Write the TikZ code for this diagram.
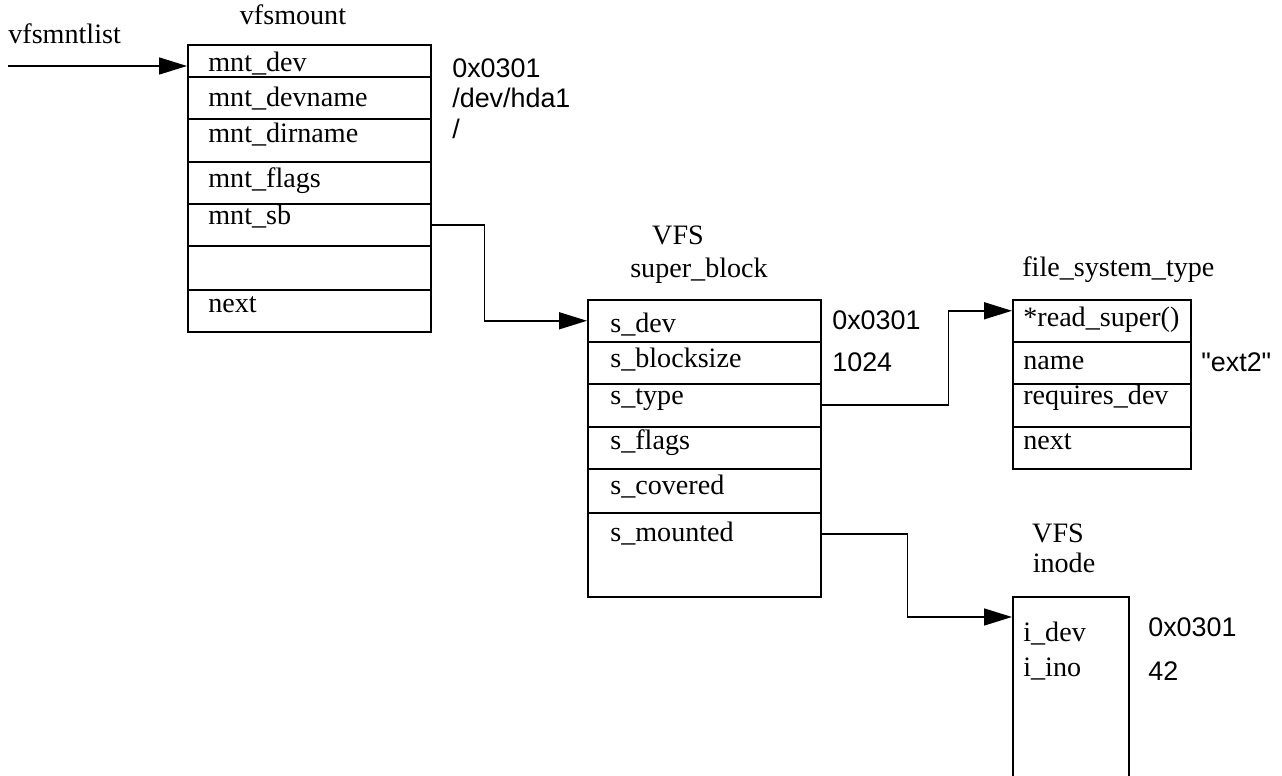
\documentclass[tikz,border=0pt]{standalone}
\usepackage{fontspec}
\setmainfont{Liberation Serif}
\newfontfamily\valfont{Liberation Sans}
\usetikzlibrary{arrows.meta}

\tikzset{
  field/.style={draw, line width=0.9pt, anchor=north west, inner sep=0pt},
  lbl/.style={anchor=base west, inner sep=0pt, font=\fontsize{16}{19}\selectfont},
  ttl/.style={anchor=base, inner sep=0pt, font=\fontsize{16}{19}\selectfont},
  val/.style={anchor=base west, inner sep=0pt, font=\valfont\fontsize{15.3}{18}\selectfont},
  link/.style={line width=0.9pt, -{Triangle[length=0.56cm,width=0.34cm]}}
}

\begin{document}
\begin{tikzpicture}[x=0.02cm, y=-0.02cm]

    % 枠
    \useasboundingbox (0,0) rectangle (1282,776);

    % vfsmount の欄
    \foreach \n/\t/\b in {mntdev/44/76, mntdevname/76/118, mntdirname/118/161,
        mntflags/161/203, mntsb/203/245, mntempty/245/289, mntnext/289/331}
        \node[field, minimum width=243*0.02cm, minimum height={(\b-\t)*0.02cm}] (\n) at (187,\t) {};

    \node[ttl] (vfsmount) at (293,25) {vfsmount};
    \node[lbl] (vfsmntlist) at (8,44) {vfsmntlist};
    \node[lbl] (tmntdev) at (208,72) {mnt\_dev};
    \node[lbl] (tmntdevname) at (208,107) {mnt\_devname};
    \node[lbl] (tmntdirname) at (208,143) {mnt\_dirname};
    \node[lbl] (tmntflags) at (208,188) {mnt\_flags};
    \node[lbl] (tmntsb) at (208,225) {mnt\_sb};
    \node[lbl] (tmntnext) at (208,313) {next};
    \node[val] (vdev) at (452,78) {0x0301};
    \node[val] (vdevname) at (452,108) {/dev/hda1};
    \node[val] (vdirname) at (452,139) {/};

    % super_block の欄
    \foreach \n/\t/\b in {sdev/299/341, sblocksize/341/383, stype/383/426,
        sflags/426/468, scovered/468/512, smounted/512/596}
        \node[field, minimum width=233*0.02cm, minimum height={(\b-\t)*0.02cm}] (\n) at (587,\t) {};

    \node[ttl] (sbvfs) at (678,245) {VFS};
    \node[ttl] (superblock) at (699,278) {super\_block};
    \node[lbl] (tsdev) at (610,333) {s\_dev};
    \node[lbl] (tsblocksize) at (610,368) {s\_blocksize};
    \node[lbl] (tstype) at (610,405) {s\_type};
    \node[lbl] (tsflags) at (610,450) {s\_flags};
    \node[lbl] (tscovered) at (610,495) {s\_covered};
    \node[lbl] (tsmounted) at (610,542) {s\_mounted};
    \node[val] (vsdev) at (832,330) {0x0301};
    \node[val] (vsblocksize) at (832,372) {1024};

    % file_system_type の欄
    \foreach \n/\t/\b in {rsuper/299/341, fsname/341/383, reqdev/383/426, fsnext/426/468}
        \node[field, minimum width=178*0.02cm, minimum height={(\b-\t)*0.02cm}] (\n) at (1012,\t) {};

    \node[lbl] (fstype) at (1022,277) {file\_system\_type};
    \node[lbl] (trsuper) at (1023,327) {*read\_super()};
    \node[lbl] (tfsname) at (1023,370) {name};
    \node[lbl] (treqdev) at (1023,405) {requires\_dev};
    \node[lbl] (tfsnext) at (1023,450) {next};
    \node[val] (vfsname) at (1201,372) {"ext2"};

    % inode の欄 (下は切れている)
    \node[field, minimum width=116*0.02cm, minimum height=220*0.02cm] (inode) at (1012,596) {};

    \node[ttl] (inodevfs) at (1058,543) {VFS};
    \node[ttl] (inodettl) at (1064,573) {inode};
    \node[lbl] (tidev) at (1023,642) {i\_dev};
    \node[lbl] (tiino) at (1023,677) {i\_ino};
    \node[val] (videv) at (1148,637) {0x0301};
    \node[val] (viino) at (1148,681) {42};

    % 矢印
    \coordinate (liststart) at (8,66);
    \draw[link] (liststart) -- (liststart -| mntdev.west);
    \draw[link] (mntsb.east) -- ++(53,0) |- (sdev.west);
    \draw[link] (stype.east) -- ++(127,0) |- ([yshift=0.2cm]rsuper.west);
    \draw[link] ([yshift=0.42cm]smounted.east) -- ++(86,0) |- ([yshift=-0.42cm]inode.north west);

\end{tikzpicture}
\end{document}
